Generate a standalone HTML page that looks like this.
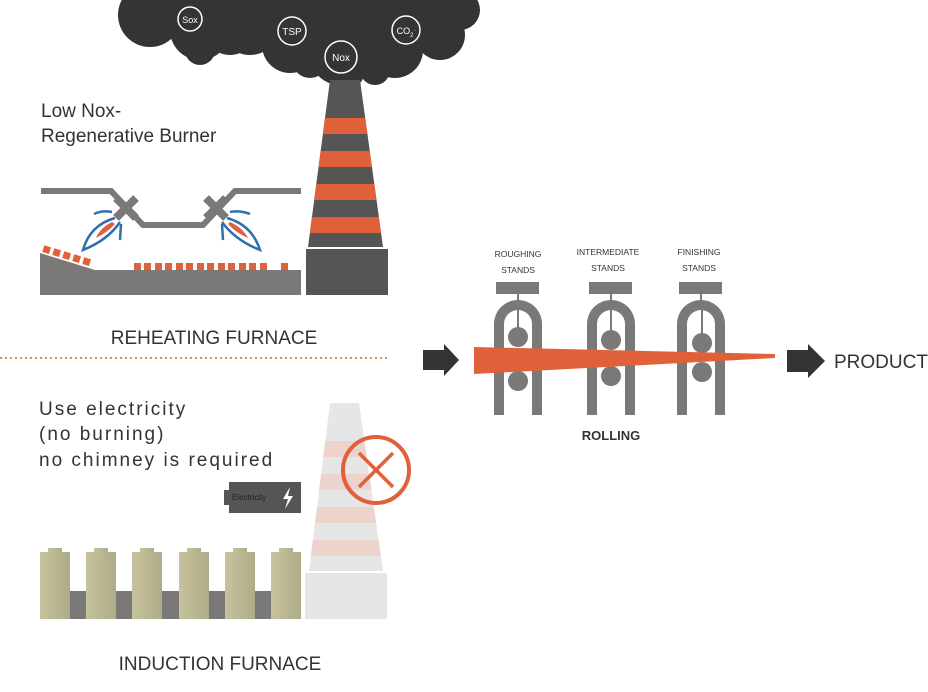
<!DOCTYPE html>
<html><head><meta charset="utf-8"><style>
html,body{margin:0;padding:0;background:#fff;width:928px;height:692px;overflow:hidden}
svg{display:block;font-family:"Liberation Sans",sans-serif}
</style></head><body>
<svg width="928" height="692" viewBox="0 0 928 692" xmlns="http://www.w3.org/2000/svg">
<defs>
<g id="st">
<rect x="-22" y="-60" width="43" height="12"/>
<rect x="-1" y="-48" width="2" height="8"/>
<path d="M-24,73 L-24,-18 A24,24 0 0 1 24,-18 L24,73 L14,73 L14,-18 A14,14 0 0 0 -14,-18 L-14,73Z"/>
</g>
<linearGradient id="cy" x1="0" x2="1"><stop offset="0" stop-color="#c6c39c"/><stop offset="1" stop-color="#aeab88"/></linearGradient>
</defs>
<!-- cloud -->
<g fill="#333433">
<rect x="150" y="0" width="310" height="30"/>
<rect x="270" y="30" width="140" height="30"/>
<circle cx="150" cy="15" r="32"/><circle cx="200" cy="30" r="30"/><circle cx="200" cy="50" r="15"/>
<circle cx="250" cy="25" r="30"/><circle cx="290" cy="45" r="28"/><circle cx="340" cy="55" r="30"/>
<circle cx="345" cy="70" r="20"/><circle cx="395" cy="50" r="28"/><circle cx="440" cy="35" r="25"/>
<circle cx="460" cy="10" r="20"/><circle cx="375" cy="70" r="15"/><circle cx="310" cy="60" r="18"/>
<circle cx="365" cy="50" r="25"/><circle cx="320" cy="45" r="25"/><circle cx="230" cy="30" r="25"/>
</g>
<g fill="none" stroke="#fff" stroke-width="1.5">
<circle cx="190" cy="19" r="12"/><circle cx="292" cy="31" r="14"/><circle cx="341" cy="57" r="16"/><circle cx="406" cy="30" r="14"/>
</g>
<g fill="#fff" font-size="9" text-anchor="middle">
<text x="190" y="23">Sox</text><text x="292" y="35" font-size="10">TSP</text><text x="341" y="61" font-size="10">Nox</text><text x="405" y="34" font-size="9">CO<tspan font-size="6" dy="3">2</tspan></text>
</g>
<!-- chimney -->
<polygon points="330,80 360,80 383,247 308,247" fill="#545554"/>
<clipPath id="ch"><polygon points="330,80 360,80 383,247 308,247"/></clipPath>
<g clip-path="url(#ch)" fill="#e0603a">
<rect x="300" y="118" width="90" height="16"/><rect x="300" y="151" width="90" height="16"/><rect x="300" y="184" width="90" height="16"/><rect x="300" y="217" width="90" height="16"/>
</g>
<rect x="306" y="249" width="82" height="46" fill="#545554"/>
<!-- furnace -->
<text x="41" y="117" font-size="19" fill="#333">Low Nox-</text>
<text x="41" y="142" font-size="19" fill="#333">Regenerative Burner</text>
<polyline points="41,191 111,191 143,225 203,225 235,191 301,191" fill="none" stroke="#7a7978" stroke-width="6"/>
<g stroke="#7a7978" stroke-width="8"><line x1="116" y1="198" x2="136" y2="218"/><line x1="136" y1="198" x2="116" y2="218"/><line x1="206" y1="218" x2="226" y2="198"/><line x1="206" y1="198" x2="226" y2="218"/></g>
<g fill="none" stroke="#2e6fb0" stroke-width="2.5">
<path d="M115,218 Q90,225 83,250 Q108,240 120,222"/><path d="M112,212 Q102,210 94,214"/><path d="M121,224 L120,240"/>
<path d="M227,218 Q252,225 260,250 Q235,240 222,222"/><path d="M230,212 Q240,210 250,214"/><path d="M222,224 L223,240"/>
</g>
<path d="M112,222 Q100,228 96,238 Q108,232 115,224Z" fill="#e0603a"/>
<path d="M230,222 Q243,228 248,238 Q235,232 228,224Z" fill="#e0603a"/>
<polygon points="40,253 95,270 301,270 301,295 40,295" fill="#7a7978"/>
<g fill="#e0603a">
<rect x="43" y="246" width="7" height="7" transform="rotate(17 46 250)"/><rect x="53" y="249" width="7" height="7" transform="rotate(17 56 253)"/><rect x="63" y="252" width="7" height="7" transform="rotate(17 66 256)"/><rect x="73" y="255" width="7" height="7" transform="rotate(17 76 259)"/><rect x="83" y="258" width="7" height="7" transform="rotate(17 86 262)"/>
<rect x="134" y="263" width="7" height="7"/><rect x="144" y="263" width="7" height="7"/><rect x="155" y="263" width="7" height="7"/><rect x="165" y="263" width="7" height="7"/><rect x="176" y="263" width="7" height="7"/><rect x="186" y="263" width="7" height="7"/><rect x="197" y="263" width="7" height="7"/><rect x="207" y="263" width="7" height="7"/><rect x="218" y="263" width="7" height="7"/><rect x="228" y="263" width="7" height="7"/><rect x="239" y="263" width="7" height="7"/><rect x="249" y="263" width="7" height="7"/><rect x="260" y="263" width="7" height="7"/><rect x="281" y="263" width="7" height="7"/>
</g>
<text x="214" y="344" font-size="19" fill="#333" text-anchor="middle">REHEATING FURNACE</text>
<line x1="0" y1="358" x2="388" y2="358" stroke="#e0603a" stroke-width="1.5" stroke-dasharray="2,3"/>
<!-- rolling -->
<polygon points="423,350 444,350 444,344 459,360 444,376 444,370 423,370" fill="#333433"/>
<polygon points="787,350 808,350 808,344 825,361 808,378 808,372 787,372" fill="#333433"/>
<text x="834" y="368" font-size="19" fill="#333">PRODUCT</text>
<g fill="#7a7978">
<use href="#st" x="518" y="342"/><use href="#st" x="611" y="342"/><use href="#st" x="701" y="342"/>
<circle cx="518" cy="337" r="10"/><circle cx="518" cy="381" r="10"/><rect x="517" y="300" width="2" height="30"/>
<circle cx="611" cy="340" r="10"/><circle cx="611" cy="376" r="10"/><rect x="610" y="300" width="2" height="32"/>
<circle cx="702" cy="343" r="10"/><circle cx="702" cy="372" r="10"/><rect x="701" y="300" width="2" height="35"/>
</g>
<polygon points="474,347 775,354 775,358 474,374" fill="#e0603a"/>
<g font-size="8.5" fill="#333" text-anchor="middle">
<text x="518" y="257">ROUGHING</text><text x="518" y="273">STANDS</text>
<text x="608" y="255">INTERMEDIATE</text><text x="608" y="271">STANDS</text>
<text x="699" y="255">FINISHING</text><text x="699" y="271">STANDS</text>
</g>
<text x="611" y="440" font-size="13" font-weight="bold" fill="#333" text-anchor="middle">ROLLING</text>
<!-- induction -->
<g font-size="19" fill="#333" letter-spacing="2">
<text x="39" y="415">Use electricity</text><text x="39" y="440">(no burning)</text><text x="39" y="466">no chimney is required</text>
</g>
<polygon points="330,403 359,403 383,571 309,571" fill="#e6e6e6"/>
<clipPath id="c2"><polygon points="330,403 359,403 383,571 309,571"/></clipPath>
<g clip-path="url(#c2)" fill="#ecd3cc">
<rect x="300" y="441" width="90" height="16"/><rect x="300" y="474" width="90" height="16"/><rect x="300" y="507" width="90" height="16"/><rect x="300" y="540" width="90" height="16"/>
</g>
<rect x="305" y="573" width="82" height="46" fill="#e6e6e6"/>
<circle cx="376" cy="470" r="33" fill="none" stroke="#e0603a" stroke-width="4"/>
<g stroke="#e0603a" stroke-width="3.5"><line x1="359" y1="453" x2="393" y2="487"/><line x1="393" y1="453" x2="359" y2="487"/></g>
<rect x="224" y="490" width="6" height="15" fill="#545554"/>
<rect x="229" y="482" width="72" height="31" fill="#545554"/>
<text x="232" y="500" font-size="8" fill="#222">Electricity</text>
<path d="M290,487 L283,499 L288,499 L285,509 L293,496 L288,496 Z" fill="#fff"/>
<rect x="70" y="591" width="231" height="28" fill="#7a7978"/>
<g fill="url(#cy)">
<rect x="40" y="552" width="30" height="67"/><rect x="48" y="548" width="14" height="5"/>
<rect x="86" y="552" width="30" height="67"/><rect x="94" y="548" width="14" height="5"/>
<rect x="132" y="552" width="30" height="67"/><rect x="140" y="548" width="14" height="5"/>
<rect x="179" y="552" width="30" height="67"/><rect x="187" y="548" width="14" height="5"/>
<rect x="225" y="552" width="30" height="67"/><rect x="233" y="548" width="14" height="5"/>
<rect x="271" y="552" width="30" height="67"/><rect x="279" y="548" width="14" height="5"/>
</g>
<text x="220" y="670" font-size="19" fill="#333" text-anchor="middle">INDUCTION FURNACE</text>
</svg>
</body></html>
